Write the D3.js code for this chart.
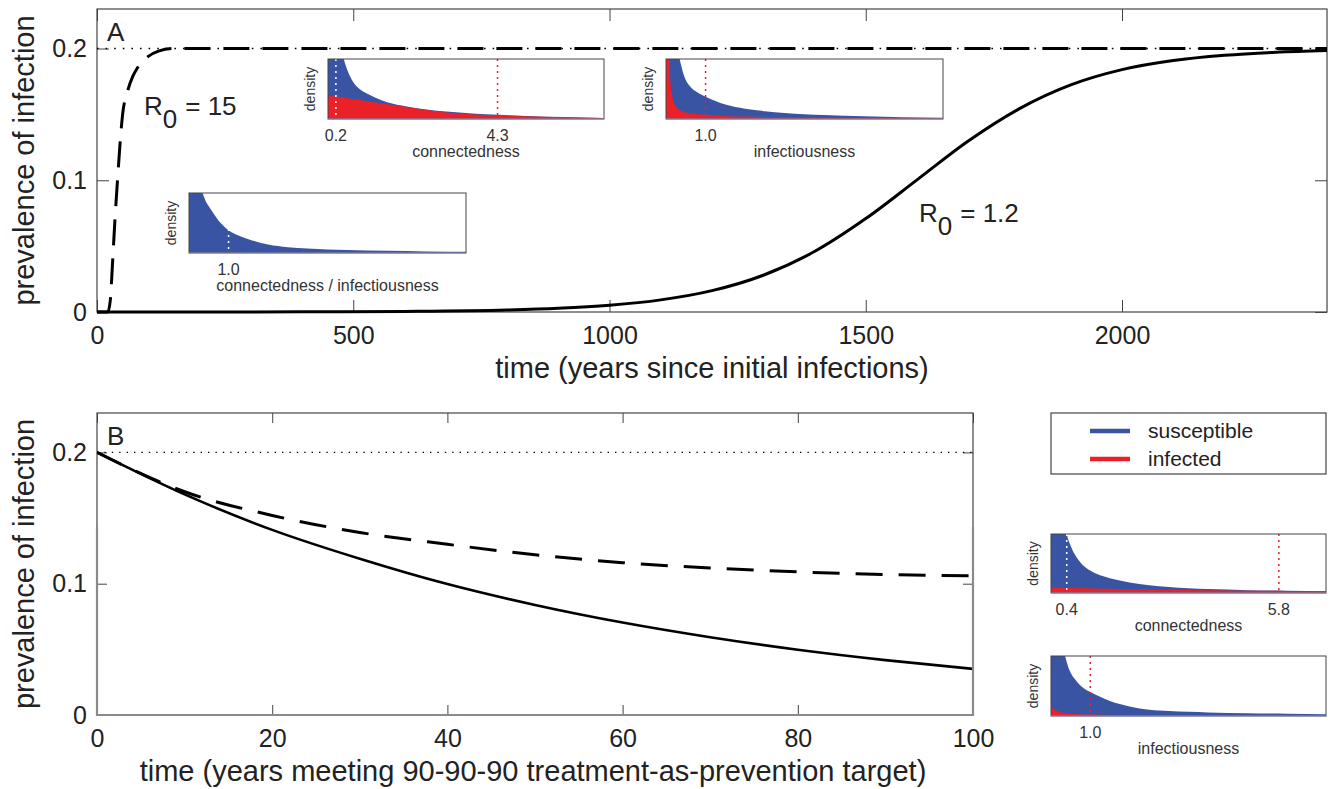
<!DOCTYPE html>
<html>
<head>
<meta charset="utf-8">
<script src="https://cdn.jsdelivr.net/npm/d3@7"></script>
<style>
body { margin: 0; background: #fff; }
text { font-family: "Liberation Sans", Arial, Helvetica, sans-serif; fill: #222; }
</style>
</head>
<body>
<svg id="fig" width="1330" height="789"></svg>
<script>
// ---- data ----
// panel A: prevalence over time
const r15Time = [0, 15, 21, 26, 30, 35, 40, 45, 50, 60, 70, 80, 100, 120, 150, 200, 2400];
const r15Prev = [0, 0, 0, 0.009, 0.035, 0.07, 0.1, 0.128, 0.15, 0.168, 0.179, 0.186, 0.194, 0.198, 0.2, 0.2, 0.2];
const r12Time = [0, 200, 400, 600, 800, 900, 1000, 1100, 1200, 1300, 1400, 1500, 1600, 1700, 1800, 1900, 2000, 2100, 2200, 2300, 2400];
const r12Prev = [0.00001, 0.00004, 0.00014, 0.00046, 0.0015, 0.0028, 0.0051, 0.0092, 0.0162, 0.0279, 0.0459, 0.0709, 0.1003, 0.1298, 0.1544, 0.1724, 0.184, 0.1909, 0.1949, 0.1972, 0.1985];
const equilibrium = 0.2;
const xTicksA = [0, 500, 1000, 1500, 2000];
const yTicks = [0, 0.1, 0.2];

// panel B: prevalence under 90-90-90
const bTime = [0, 10, 20, 30, 40, 50, 60, 70, 80, 90, 100];
const bSolid = [0.2, 0.168, 0.141, 0.119, 0.0997, 0.0838, 0.0704, 0.0592, 0.0497, 0.0418, 0.0351];
const bDashed = [0.2, 0.17, 0.152, 0.139, 0.13, 0.122, 0.116, 0.112, 0.109, 0.107, 0.106];
const xTicksB = [0, 20, 40, 60, 80, 100];

// inset densities (values above 1 are clipped by the box)
const densX = [0, 0.1, 0.2, 0.3, 0.4, 0.5, 0.6, 0.8, 1.0, 1.25, 1.5, 2, 2.5, 3, 3.5, 4, 5, 6, 7];
const connA_sus = [3, 3, 2, 1.3, 1.0, 0.8, 0.66, 0.5, 0.42, 0.34, 0.28, 0.21, 0.16, 0.125, 0.1, 0.08, 0.052, 0.032, 0.018];
const connA_inf = [0.38, 0.38, 0.375, 0.365, 0.355, 0.345, 0.335, 0.315, 0.295, 0.27, 0.245, 0.2, 0.15, 0.11, 0.085, 0.068, 0.045, 0.028, 0.016];
const infA_sus = [3, 3, 2, 1.2, 0.85, 0.65, 0.55, 0.44, 0.37, 0.3, 0.24, 0.17, 0.13, 0.1, 0.08, 0.065, 0.045, 0.03, 0.02];
const infA_inf = [3, 0.7, 0.28, 0.17, 0.13, 0.11, 0.095, 0.08, 0.07, 0.06, 0.052, 0.04, 0.033, 0.028, 0.024, 0.02, 0.015, 0.012, 0.01];
const low_sus = [3, 3, 1.8, 1.15, 0.9, 0.78, 0.68, 0.5, 0.38, 0.29, 0.23, 0.14, 0.095, 0.075, 0.06, 0.05, 0.036, 0.027, 0.02];
const connB_sus = [3, 3, 2, 1.35, 1.0, 0.8, 0.66, 0.48, 0.38, 0.3, 0.25, 0.18, 0.13, 0.1, 0.08, 0.066, 0.048, 0.037, 0.03];
const connB_inf = [0.09, 0.09, 0.088, 0.086, 0.085, 0.083, 0.082, 0.08, 0.077, 0.074, 0.07, 0.065, 0.06, 0.055, 0.05, 0.046, 0.04, 0.034, 0.028];
const infB_sus = [3, 3, 1.8, 1.2, 0.9, 0.72, 0.62, 0.48, 0.4, 0.32, 0.25, 0.16, 0.105, 0.085, 0.07, 0.06, 0.047, 0.037, 0.03];
const infB_inf = [0.15, 0.1, 0.07, 0.055, 0.045, 0.038, 0.033, 0.027, 0.023, 0.02, 0.018, 0.015, 0.013, 0.012, 0.011, 0.01, 0.009, 0.008, 0.008];

const legendLabels = ['susceptible', 'infected'];

const BLUE = '#3a54a4';
const RED = '#ec2027';
const svg = d3.select('#fig');

// ---- main panels ----
function setupPanel(p) {
    const x = d3.scaleLinear().domain(p.xDomain).range([p.left, p.right]);
    const y = d3.scaleLinear().domain([0, 0.23]).range([p.bottom, p.top]);
    const g = svg.append('g');
    const tl = p.tick;

    const fmtY = d => (d === 0 ? '0' : d3.format('.1f')(d));
    // bottom/left carry labels, top/right only inward ticks (matlab style)
    g.append('g').attr('transform', `translate(0,${p.bottom})`)
        .call(d3.axisBottom(x).tickValues(p.xTicks).tickSize(-tl).tickPadding(14).tickFormat(d3.format('d')));
    g.append('g').attr('transform', `translate(${p.left},0)`)
        .call(d3.axisLeft(y).tickValues(yTicks).tickSize(-tl).tickPadding(10).tickFormat(fmtY));
    g.append('g').attr('transform', `translate(0,${p.top})`)
        .call(d3.axisTop(x).tickValues(p.xTicks).tickSize(-tl).tickFormat(''));
    g.append('g').attr('transform', `translate(${p.right},0)`)
        .call(d3.axisRight(y).tickValues(yTicks).tickSize(-tl).tickFormat(''));
    g.selectAll('.domain').remove();
    g.selectAll('.tick line').attr('stroke', '#444');
    g.selectAll('.tick text').attr('font-size', 25).attr('font-family', null).style('fill', '#222');

    g.append('rect').attr('x', p.left).attr('y', p.top)
        .attr('width', p.right - p.left).attr('height', p.bottom - p.top)
        .attr('fill', 'none').attr('stroke', '#444').attr('stroke-width', 1.2);

    const clipId = 'clip' + p.name;
    svg.append('clipPath').attr('id', clipId).append('rect')
        .attr('x', p.left).attr('y', p.top - 2)
        .attr('width', p.right - p.left).attr('height', p.bottom - p.top + 4);
    const plot = g.append('g').attr('clip-path', `url(#${clipId})`);

    // titles
    g.append('text').attr('x', (p.left + p.right) / 2 + (p.titleShift || 0)).attr('y', p.bottom + 66)
        .attr('text-anchor', 'middle').attr('font-size', 29).text(p.xTitle);
    g.append('text').attr('transform', `translate(34,${(p.top + p.bottom) / 2}) rotate(-90)`)
        .attr('text-anchor', 'middle').attr('font-size', 29).text('prevalence of infection');
    g.append('text').attr('x', p.left + 10).attr('y', p.top + 32).attr('font-size', 26).text(p.name);

    return { x, y, g, plot };
}

function drawLine(pan, xs, ys, style) {
    const line = d3.line().x((d, i) => pan.x(xs[i])).y(d => pan.y(d)).curve(d3.curveMonotoneX);
    pan.plot.append('path').datum(ys).attr('d', line)
        .attr('fill', 'none').attr('stroke', '#000')
        .attr('stroke-width', style.w).attr('stroke-dasharray', style.dash || null);
}

function r0Label(g, x, y, value) {
    const t = g.append('text').attr('x', x).attr('y', y).attr('font-size', 26);
    t.append('tspan').text('R');
    t.append('tspan').attr('dy', 13).text('0');
    t.append('tspan').attr('dy', -13).attr('dx', 8).text('= ' + value);
}

// Panel A
const A = setupPanel({ name: 'A', left: 97, right: 1327, top: 9, bottom: 312, tick: 12,
    xDomain: [0, 2400], xTicks: xTicksA, xTitle: 'time (years since initial infections)' });
A.plot.append('line').attr('x1', A.x(0)).attr('x2', A.x(2400))
    .attr('y1', A.y(equilibrium)).attr('y2', A.y(equilibrium))
    .attr('stroke', '#000').attr('stroke-width', 1.6).attr('stroke-dasharray', '1.6,7');
drawLine(A, r12Time, r12Prev, { w: 3 });
drawLine(A, r15Time, r15Prev, { w: 3, dash: '26,13' });
r0Label(A.g, 144, 115, '15');
r0Label(A.g, 919, 222, '1.2');

// Panel B
const B = setupPanel({ name: 'B', left: 97, right: 973, top: 413, bottom: 715, tick: 10, titleShift: -2,
    xDomain: [0, 100], xTicks: xTicksB, xTitle: 'time (years meeting 90-90-90 treatment-as-prevention target)' });
B.plot.append('line').attr('x1', B.x(0)).attr('x2', B.x(100))
    .attr('y1', B.y(equilibrium)).attr('y2', B.y(equilibrium))
    .attr('stroke', '#000').attr('stroke-width', 1.4).attr('stroke-dasharray', '1.4,6');
drawLine(B, bTime, bSolid, { w: 2.6 });
drawLine(B, bTime, bDashed, { w: 3, dash: '27,16' });
// lower part of frame in B is a lighter grey
B.g.append('path')
    .attr('d', `M97,527 V715 H973 V527`)
    .attr('fill', 'none').attr('stroke', '#8a8a8a').attr('stroke-width', 2.2);

// ---- density insets ----
function inset(cfg) {
    const x = d3.scaleLinear().domain([0, 7]).range([cfg.x0, cfg.x0 + cfg.w]);
    const y = d3.scaleLinear().domain([0, 1]).range([cfg.y0 + cfg.h, cfg.y0]);
    const g = svg.append('g');
    const id = 'ic' + cfg.id;
    svg.append('clipPath').attr('id', id).append('rect')
        .attr('x', cfg.x0).attr('y', cfg.y0).attr('width', cfg.w).attr('height', cfg.h);
    const c = g.append('g').attr('clip-path', `url(#${id})`);
    const area = d3.area().x((d, i) => x(densX[i])).y0(y(0)).y1(d => y(d)).curve(d3.curveMonotoneX);
    c.append('path').datum(cfg.sus).attr('d', area).attr('fill', BLUE);
    if (cfg.inf) c.append('path').datum(cfg.inf).attr('d', area).attr('fill', RED);
    cfg.marks.forEach(m => {
        c.append('line').attr('x1', x(m.v)).attr('x2', x(m.v))
            .attr('y1', cfg.y0).attr('y2', cfg.y0 + cfg.h)
            .attr('stroke', m.color).attr('stroke-width', 1.5).attr('stroke-dasharray', '2,4');
        g.append('text').attr('x', x(m.v)).attr('y', cfg.y0 + cfg.h + 22)
            .attr('text-anchor', 'middle').attr('font-size', 16).style('fill', '#333')
            .text(d3.format('.1f')(m.v));
    });
    g.append('rect').attr('x', cfg.x0).attr('y', cfg.y0).attr('width', cfg.w).attr('height', cfg.h)
        .attr('fill', 'none').attr('stroke', '#444').attr('stroke-width', 1);
    g.append('line').attr('x1', cfg.x0).attr('x2', cfg.x0 + cfg.w)
        .attr('y1', cfg.y0 + cfg.h).attr('y2', cfg.y0 + cfg.h)
        .attr('stroke', '#9a94c8').attr('stroke-width', 1.2);
    g.append('text').attr('x', cfg.x0 + cfg.w / 2).attr('y', cfg.y0 + cfg.h + 38)
        .attr('text-anchor', 'middle').attr('font-size', 16).style('fill', '#333').text(cfg.label);
    g.append('text').attr('transform', `translate(${cfg.x0 - 13},${cfg.y0 + cfg.h / 2}) rotate(-90)`)
        .attr('text-anchor', 'middle').attr('font-size', 14).style('fill', '#333').text('density');
}

inset({ id: 1, x0: 328, y0: 59, w: 276, h: 60, sus: connA_sus, inf: connA_inf,
    marks: [{ v: 0.2, color: '#fff' }, { v: 4.3, color: RED }], label: 'connectedness' });
inset({ id: 2, x0: 666, y0: 59, w: 277, h: 60, sus: infA_sus, inf: infA_inf,
    marks: [{ v: 1.0, color: RED }], label: 'infectiousness' });
inset({ id: 3, x0: 189, y0: 193, w: 277, h: 60, sus: low_sus, inf: null,
    marks: [{ v: 1.0, color: '#fff' }], label: 'connectedness / infectiousness' });
inset({ id: 4, x0: 1051, y0: 534, w: 275, h: 59, sus: connB_sus, inf: connB_inf,
    marks: [{ v: 0.4, color: '#fff' }, { v: 5.8, color: RED }], label: 'connectedness' });
inset({ id: 5, x0: 1051, y0: 656, w: 275, h: 60, sus: infB_sus, inf: infB_inf,
    marks: [{ v: 1.0, color: RED }], label: 'infectiousness' });

// ---- legend ----
const leg = svg.append('g');
leg.append('rect').attr('x', 1051).attr('y', 413).attr('width', 275).attr('height', 61)
    .attr('fill', '#fff').attr('stroke', '#444').attr('stroke-width', 1.2);
[BLUE, RED].forEach((col, i) => {
    leg.append('line').attr('x1', 1090).attr('x2', 1130)
        .attr('y1', 431 + i * 28).attr('y2', 431 + i * 28)
        .attr('stroke', col).attr('stroke-width', 4.5);
    leg.append('text').attr('x', 1148).attr('y', 438 + i * 28)
        .attr('font-size', 21).text(legendLabels[i]);
});
</script>
</body>
</html>
